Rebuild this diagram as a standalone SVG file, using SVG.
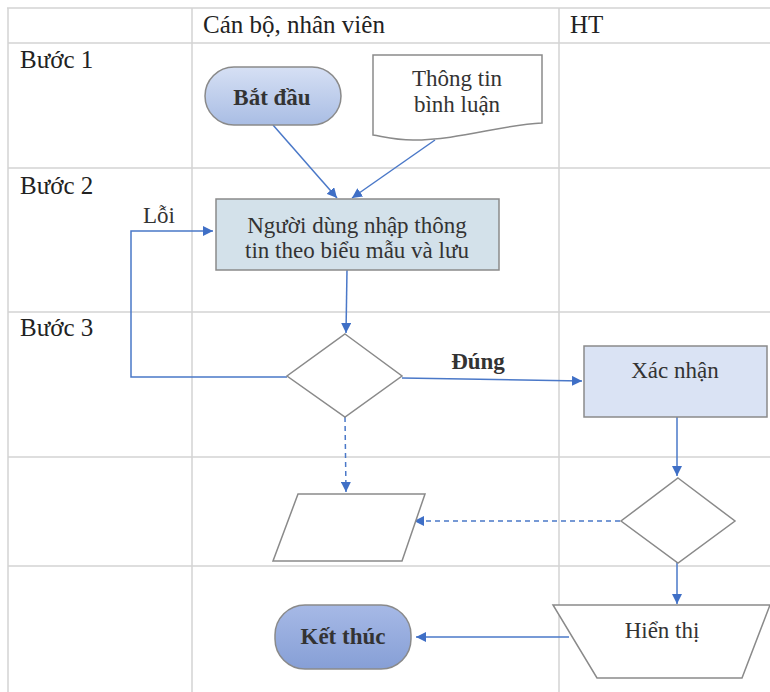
<svg xmlns="http://www.w3.org/2000/svg" width="770" height="692" viewBox="0 0 770 692">
<style>
.grid{stroke:#d3d3d3;stroke-width:1.5;fill:none}
.t{font-family:"Liberation Serif","Times New Roman",serif;fill:#222}
.hd{font-size:25px}
.lbl{font-size:23px;text-anchor:middle;fill:#333}
.shape{stroke:#8a8a8a;stroke-width:1.5}
.conn{stroke:#4a78c8;stroke-width:1.5;fill:none}
.dash{stroke-dasharray:5 4}
</style>
<defs>
<marker id="ah" viewBox="0 0 10 10" refX="10" refY="5" markerWidth="10" markerHeight="10" markerUnits="userSpaceOnUse" orient="auto">
<path d="M0,0 L10,5 L0,10 z" fill="#3f6fc6"/>
</marker>
<linearGradient id="gStart" x1="0" y1="0" x2="0" y2="1">
<stop offset="0" stop-color="#d6e0f4"/><stop offset="1" stop-color="#a9bde4"/>
</linearGradient>
<linearGradient id="gEnd" x1="0" y1="0" x2="0" y2="1">
<stop offset="0" stop-color="#a6b9e6"/><stop offset="1" stop-color="#869fd6"/>
</linearGradient>
</defs>
<rect width="770" height="692" fill="#fff"/>
<g id="grid">
<line class="grid" x1="7" y1="8" x2="770" y2="8"/>
<line class="grid" x1="8" y1="8" x2="8" y2="692"/>
<line class="grid" x1="192" y1="8" x2="192" y2="692"/>
<line class="grid" x1="559" y1="8" x2="559" y2="692"/>
<line class="grid" x1="8" y1="43" x2="770" y2="43"/>
<line class="grid" x1="8" y1="168" x2="770" y2="168"/>
<line class="grid" x1="8" y1="312" x2="770" y2="312"/>
<line class="grid" x1="8" y1="457" x2="770" y2="457"/>
<line class="grid" x1="8" y1="566" x2="770" y2="566"/>
<text class="t hd" x="203" y="33">Cán bộ, nhân viên</text>
<text class="t hd" x="570" y="33">HT</text>
<text class="t hd" x="20" y="68">Bước 1</text>
<text class="t hd" x="20" y="194">Bước 2</text>
<text class="t hd" x="20" y="336">Bước 3</text>
</g>
<g id="connectors">
<line class="conn" x1="273" y1="125" x2="337" y2="198" marker-end="url(#ah)"/>
<line class="conn" x1="435" y1="140" x2="352" y2="198" marker-end="url(#ah)"/>
<line class="conn" x1="347" y1="270" x2="346" y2="333" marker-end="url(#ah)"/>
<polyline class="conn" points="287,377 131,377 131,231 213,231" marker-end="url(#ah)"/>
<line class="conn" x1="402" y1="378" x2="582" y2="381" marker-end="url(#ah)"/>
<line class="conn" x1="677" y1="417" x2="677" y2="476" marker-end="url(#ah)"/>
<line class="conn dash" x1="345" y1="417" x2="346" y2="492" marker-end="url(#ah)"/>
<line class="conn dash" x1="620" y1="521" x2="414" y2="521" marker-end="url(#ah)"/>
<line class="conn" x1="677" y1="550" x2="677" y2="604" marker-end="url(#ah)"/>
<line class="conn" x1="569" y1="637" x2="416" y2="637" marker-end="url(#ah)"/>
<text class="t lbl" x="159" y="223" fill="#222">Lỗi</text>
<text class="t lbl" x="478" y="369" font-weight="bold" font-size="21" fill="#222">Đúng</text>
</g>
<g id="start">
<rect class="shape" x="205" y="67" width="136" height="58" rx="29" fill="url(#gStart)"/>
<text class="t lbl" x="272" y="105" font-weight="bold" font-size="20">Bắt đầu</text>
</g>
<g id="comment">
<path class="shape" d="M373,55 L542,55 L542,123 C500,125 460,140 413,140 C395,140 385,137 373,135 Z" fill="#fff"/>
<text class="t lbl" x="457" y="86">Thông tin</text>
<text class="t lbl" x="457" y="112">bình luận</text>
</g>
<g id="input">
<rect class="shape" x="216" y="199" width="283" height="71" fill="#d3e1ea"/>
<text class="t lbl" x="357" y="233">Người dùng nhập thông</text>
<text class="t lbl" x="357" y="258">tin theo biểu mẫu và lưu</text>
</g>
<g id="check1">
<polygon class="shape" points="345,334 402,376 345,417 287,376" fill="#fff"/>
</g>
<g id="confirm">
<rect class="shape" x="584" y="346" width="183" height="71" fill="#dae3f4"/>
<text class="t lbl" x="675" y="378">Xác nhận</text>
</g>
<g id="check2">
<polygon class="shape" points="678,478 735,521 678,563 621,521" fill="#fff"/>
</g>
<g id="data">
<polygon class="shape" points="298,494 425,494 402,561 273,561" fill="#fff"/>
</g>
<g id="display">
<polygon class="shape" points="553,605 770,605 742,678 597,678" fill="#fff"/>
<text class="t lbl" x="662" y="638">Hiển thị</text>
</g>
<g id="end">
<rect class="shape" x="275" y="605" width="136" height="64" rx="30" fill="url(#gEnd)"/>
<text class="t lbl" x="343" y="644" font-weight="bold" font-size="20">Kết thúc</text>
</g>
</svg>
